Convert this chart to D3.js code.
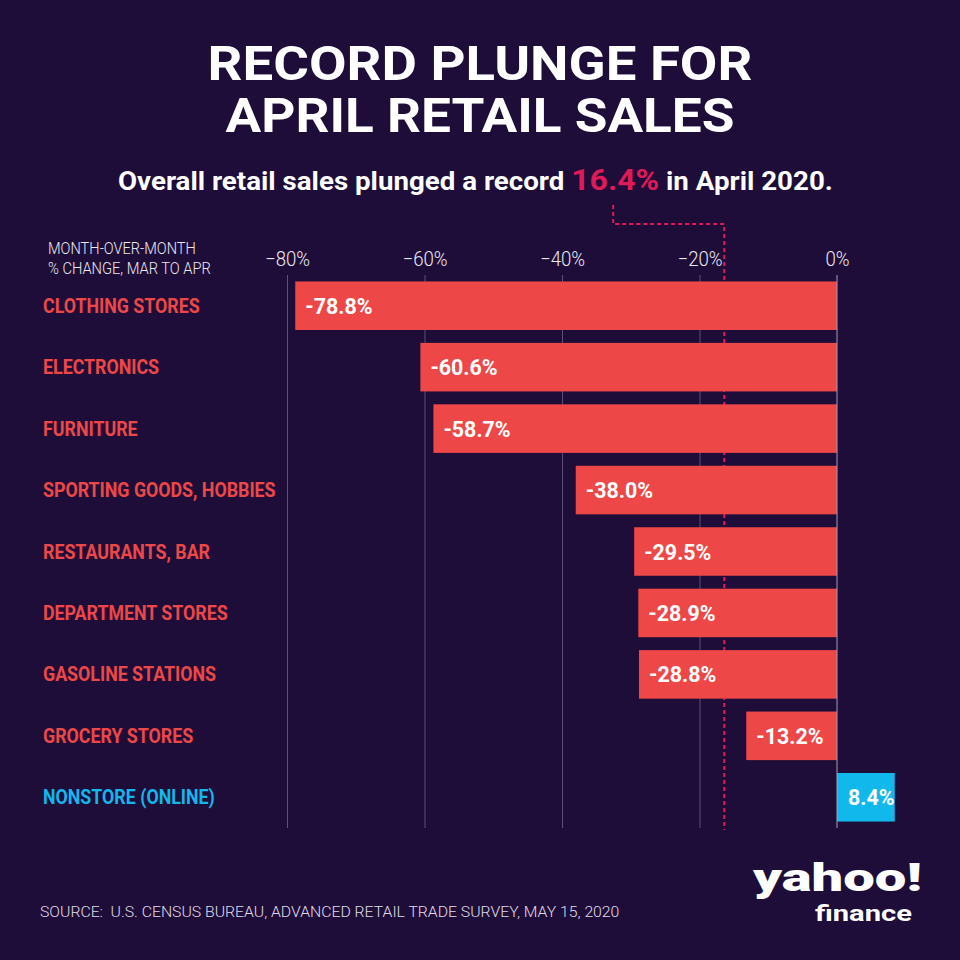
<!DOCTYPE html>
<html>
<head>
<meta charset="utf-8">
<script src="https://cdn.jsdelivr.net/npm/d3@7/dist/d3.min.js"></script>
<style>
  html, body { margin: 0; padding: 0; background: #1e0d39; }
  svg { display: block; }
</style>
</head>
<body>
<script>
// ---- Data ----
const categories = [
  "CLOTHING STORES",
  "ELECTRONICS",
  "FURNITURE",
  "SPORTING GOODS, HOBBIES",
  "RESTAURANTS, BAR",
  "DEPARTMENT STORES",
  "GASOLINE STATIONS",
  "GROCERY STORES",
  "NONSTORE (ONLINE)"
];
const values = [-78.8, -60.6, -58.7, -38.0, -29.5, -28.9, -28.8, -13.2, 8.4];
const tickValues = [-80, -60, -40, -20, 0];
const overallChange = -16.4;

const titleLines = ["RECORD PLUNGE FOR", "APRIL RETAIL SALES"];
const subtitleParts = ["Overall retail sales plunged a record ", "16.4%", " in April 2020."];
const axisNote = ["MONTH-OVER-MONTH", "% CHANGE, MAR TO APR"];
const sourceText = "SOURCE:  U.S. CENSUS BUREAU, ADVANCED RETAIL TRADE SURVEY, MAY 15, 2020";

// ---- Style ----
const W = 960, H = 960;
const BG = "#1e0d39";
const RED = "#ee4748";
const CYAN = "#11b8eb";
const PINK = "#df1a58";
const FONT = "Roboto, 'Liberation Sans', sans-serif";

const svg = d3.select("body").append("svg").attr("width", W).attr("height", H);
svg.append("rect").attr("width", W).attr("height", H).attr("fill", BG);

// helper: text inside a group that is horizontally scaled to a target width
function fitText(parent, x, y, str, opts) {
  const g = parent.append("g").attr("transform", `translate(${x},${y})`);
  const t = g.append("text")
    .attr("font-family", FONT)
    .attr("font-size", opts.size)
    .attr("font-weight", opts.weight || 400)
    .attr("fill", opts.fill || "#fff")
    .attr("text-anchor", opts.anchor || "start")
    .style("white-space", "pre")
    .text(str);
  let sx = opts.sx || 1;
  if (opts.width) sx = opts.width / t.node().getComputedTextLength();
  g.attr("transform", `translate(${x},${y}) scale(${sx},1)`);
  return { g, t, sx };
}

// ---- Title ----
fitText(svg, 480, 80, titleLines[0], { size: 48, weight: 700, anchor: "middle", width: 545 });
fitText(svg, 480, 132, titleLines[1], { size: 48, weight: 700, anchor: "middle", width: 509 });

// ---- Subtitle ----
const subG = svg.append("g");
const subT = subG.append("text")
  .attr("font-family", FONT).attr("font-size", 26).attr("font-weight", 700)
  .attr("fill", "#fff").attr("text-anchor", "start");
subT.append("tspan").text(subtitleParts[0]);
subT.append("tspan").attr("fill", PINK).attr("font-size", 30).text(subtitleParts[1]);
subT.append("tspan").text(subtitleParts[2]);
const subLen = subT.node().getComputedTextLength();
const subSx = 715 / subLen;
const subX0 = 118;
subG.attr("transform", `translate(${subX0},190) scale(${subSx},1)`);
const pctStart = subT.node().getSubStringLength(0, subtitleParts[0].length);
const pctLen = subT.node().getSubStringLength(subtitleParts[0].length, subtitleParts[1].length);
const pctCenterX = subX0 + subSx * (pctStart + pctLen / 2) - 2;

// ---- Scales ----
const x = d3.scaleLinear().domain([-80, 0]).range([287, 837]);
const y = d3.scaleBand().domain(categories).range([275, 828]).paddingInner(0.21).paddingOuter(0.105);

// ---- Axis + gridlines ----
const axis = d3.axisTop(x)
  .tickValues(tickValues)
  .tickSize(-553)
  .tickPadding(9)
  .tickFormat(d => d === 0 ? "0%" : "\u2212" + Math.abs(d) + "%");
const axG = svg.append("g").attr("transform", "translate(0,275)").call(axis);
axG.select(".domain").remove();
axG.selectAll(".tick line")
  .attr("stroke", d => d === 0 ? "none" : "#5b5075")
  .attr("stroke-width", 1);
axG.selectAll(".tick text")
  .attr("font-family", FONT).attr("font-size", 20).attr("font-weight", 300)
  .attr("fill", "#ebe8f0")
  .attr("transform", "scale(0.93,1)");

// ---- Axis note ----
fitText(svg, 48, 254, axisNote[0], { size: 16, weight: 300, width: 148, fill: "#ebe8f0" });
fitText(svg, 48, 274, axisNote[1], { size: 16, weight: 300, width: 163, fill: "#ebe8f0" });

// ---- Overall dashed connector ----
const xo = x(overallChange);
svg.append("path")
  .attr("d", `M${pctCenterX},205 V224 H${xo} V830`)
  .attr("fill", "none").attr("stroke", PINK).attr("stroke-width", 2)
  .attr("stroke-dasharray", "4,3");

// ---- Bars ----
const rows = categories.map((c, i) => ({ c, v: values[i] }));
svg.append("g").selectAll("rect").data(rows).join("rect")
  .attr("x", d => x(Math.min(0, d.v)))
  .attr("width", d => Math.abs(x(d.v) - x(0)))
  .attr("y", d => y(d.c))
  .attr("height", y.bandwidth())
  .attr("fill", d => d.v < 0 ? RED : CYAN);

// zero line on top
svg.append("line")
  .attr("x1", x(0)).attr("x2", x(0)).attr("y1", 275).attr("y2", 828)
  .attr("stroke", "#a59db6").attr("stroke-width", 1);

// ---- Value labels ----
const vlG = svg.append("g");
rows.forEach(d => {
  const lx = d.v < 0 ? x(d.v) + 10 : x(0) + 11;
  const ly = y(d.c) + y.bandwidth() / 2 + 8;
  const txt = d.v.toFixed(1) + "%";
  fitText(vlG, lx, ly, txt, { size: 23, weight: 700, sx: 0.93, fill: "#ffffff" });
});

// ---- Category labels ----
const clG = svg.append("g");
rows.forEach(d => {
  const ly = y(d.c) + y.bandwidth() / 2 + 7;
  fitText(clG, 43, ly, d.c, { size: 20, weight: 700, sx: 0.89, fill: d.v < 0 ? RED : CYAN });
});

// ---- Source ----
fitText(svg, 40, 917, sourceText, { size: 15.5, weight: 300, width: 580, fill: "#e0dce8" });

// ---- Logo ----
fitText(svg, 753, 891, "yahoo!", { size: 38, weight: 900, width: 169, fill: "#ffffff" });
fitText(svg, 815, 921, "finance", { size: 22, weight: 700, width: 97, fill: "#ffffff" });
</script>
</body>
</html>
